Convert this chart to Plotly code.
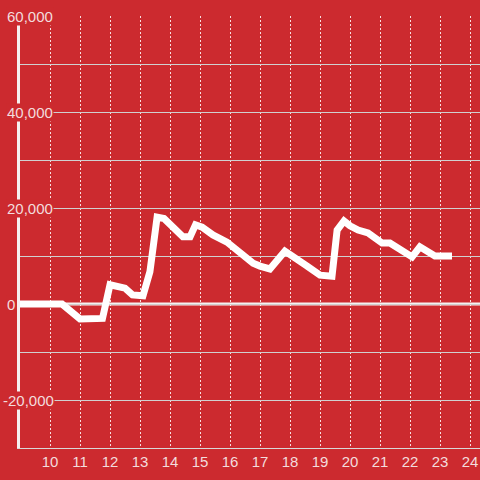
import plotly.graph_objects as go

# data
hours = [9.0, 10.4, 11.0, 11.75, 12.0, 12.5, 12.75, 13.1, 13.33, 13.57,
         13.8, 14.1, 14.43, 14.67, 14.85, 15.07, 15.43, 15.9, 16.33, 16.77,
         17.0, 17.33, 17.83, 18.1, 18.57, 19.0, 19.4, 19.57, 19.8, 20.0,
         20.27, 20.6, 21.07, 21.33, 21.67, 22.07, 22.33, 22.67, 22.83, 23.4]
values = [0, 0, -3100, -3000, 4000, 3300, 1900, 1700, 6700, 18100,
          17800, 16000, 14000, 14000, 16500, 16000, 14400, 12900, 10800, 8500,
          7900, 7300, 11000, 10000, 7900, 6000, 5800, 15400, 17300, 16300,
          15400, 14800, 12700, 12700, 11200, 9800, 11900, 10600, 10000, 10000]
x_ticks = list(range(10, 25))
y_ticks = [60000, 40000, 20000, 0, -20000]
y_tick_text = ["60,000", "40,000", "20,000", "0", "-20,000"]

BG = "#cc2a2f"
LABEL = "#f3dcdd"
FONT = "Liberation Sans"

fig = go.Figure()
fig.add_trace(go.Scatter(x=hours, y=values, mode="lines",
                         line=dict(color="white", width=7),
                         hoverinfo="skip", showlegend=False))

# thick zero line, starting a little left of the axis
fig.add_shape(type="line", xref="paper", yref="y", x0=-3 / 460, x1=1, y0=0, y1=0,
              line=dict(color="#f5f0f0", width=3), layer="below")

# y labels sit over the axis line with a background patch
for v, t in zip(y_ticks, y_tick_text):
    left_px = 2 if v < 0 else 6
    fig.add_annotation(x=(left_px - 20) / 460, xref="paper", xanchor="left",
                       y=v, yref="y", yanchor="middle", text=t, showarrow=False,
                       font=dict(family=FONT, size=15, color=LABEL),
                       bgcolor=BG, borderpad=0)

fig.update_xaxes(range=[9, 24.333], tickvals=x_ticks,
                 showgrid=True, gridcolor="rgba(255,255,255,0.85)", gridwidth=1,
                 griddash="2px,2px", zeroline=False,
                 showline=True, linecolor="#d8d8d8", linewidth=1,
                 ticks="", tickfont=dict(family=FONT, size=15, color=LABEL))
fig.update_yaxes(range=[-30000, 60000], dtick=10000, tick0=0,
                 showgrid=True, gridcolor="#d0d0d0", gridwidth=1,
                 zeroline=False, showticklabels=False, ticks="",
                 showline=True, linecolor="#f5f0f0", linewidth=3)

fig.update_layout(width=480, height=480,
                  margin=dict(l=20, r=0, t=16, b=32),
                  paper_bgcolor=BG, plot_bgcolor=BG,
                  font=dict(family=FONT, color=LABEL),
                  hovermode=False)

fig.write_html("out.html", config={"displayModeBar": False},
               post_script="document.body.style.margin='0px';")
